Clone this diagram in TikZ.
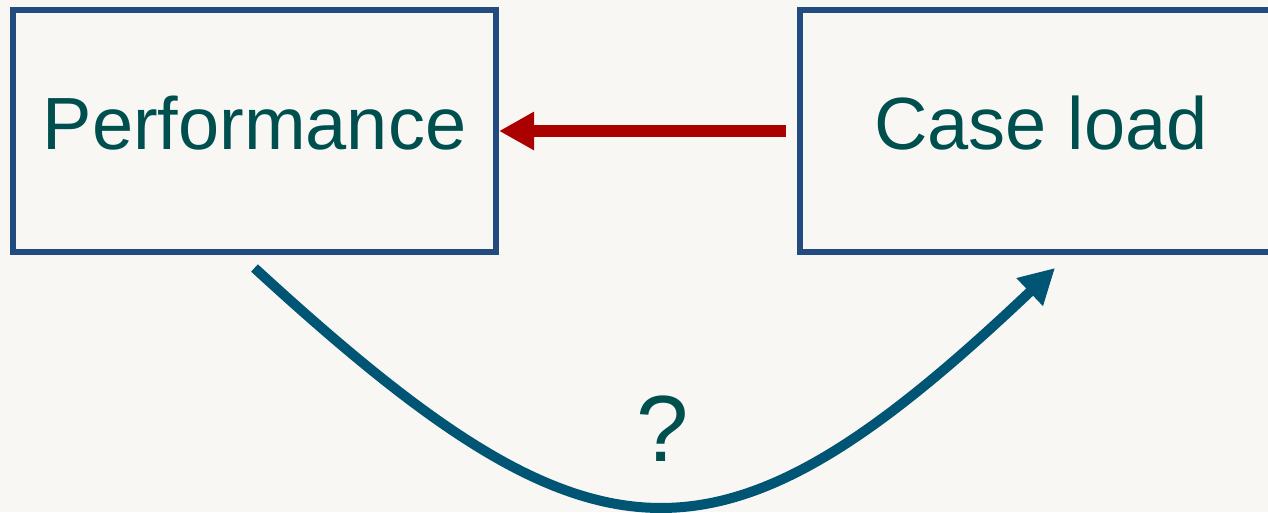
\documentclass[tikz,border=0pt]{standalone}
\usepackage{fontspec}
\setmainfont{Liberation Sans}
\usepackage{xcolor}
\usetikzlibrary{arrows.meta, positioning, calc}

\definecolor{bgpaper}{HTML}{F9F7F3}
\definecolor{boxblue}{HTML}{224B80}
\definecolor{labelteal}{HTML}{004F4F}
\definecolor{arrowred}{HTML}{AA0000}
\definecolor{curveblue}{HTML}{005575}

\begin{document}
\begin{tikzpicture}[
    x=1pt, y=1pt,
    box/.style={rectangle, draw=boxblue, line width=6pt, outer sep=0pt,
                minimum width=483pt, minimum height=242pt, inner sep=0pt,
                text=labelteal, text height=52pt, text depth=14pt,
                font=\fontsize{74}{80}\selectfont},
    redarrow/.style={-{Triangle[length=35pt, width=36pt]}, line width=12pt, draw=arrowred},
    bluearrow/.style={-{Triangle[length=35pt, width=36pt]}, line width=10pt, draw=curveblue},
    node distance=303.5pt
]

\clip (0,0) rectangle (1268,512);
\fill[bgpaper] (0,0) rectangle (1268,512);

\node[box] (perf) at (254.5,381) {Performance};
\node[box, right=of perf] (load) {Case load};

\coordinate (cstart) at ($(perf.south)+(0,-16)$);
\coordinate (cend) at ($(load.south)+(14,-16)$);

\draw[redarrow, shorten <=13.5pt, shorten >=3pt] (load.west) -- (perf.east);
\draw[bluearrow] (cstart) .. controls (593,-67) and (717,-77) .. (cend);

\node[text=labelteal, font=\fontsize{94}{100}\selectfont, anchor=base] (qmark) at (663,51) {?};

\end{tikzpicture}
\end{document}
